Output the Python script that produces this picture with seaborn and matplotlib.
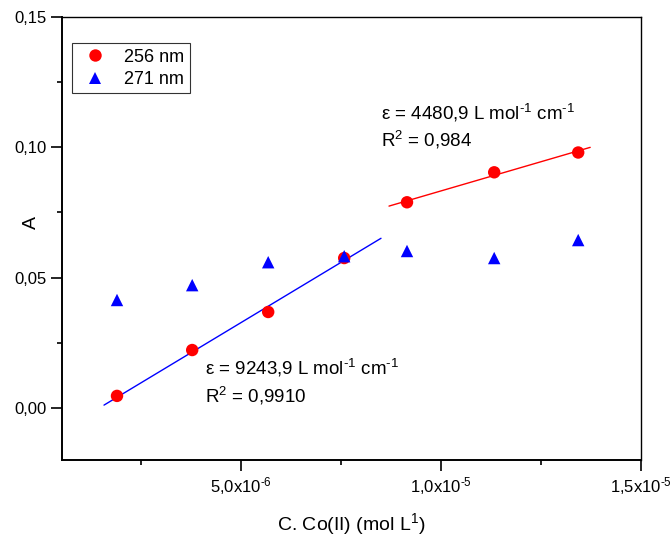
import numpy as np
import pandas as pd
import matplotlib
matplotlib.use("Agg")
import matplotlib.pyplot as plt
import matplotlib.ticker as mticker
import seaborn as sns

# Concentration of Co(II) (mol/L) and absorbance at the two wavelengths
conc = [1.90e-6, 3.78e-6, 5.68e-6, 7.58e-6, 9.15e-6, 1.133e-5, 1.343e-5]
abs_256 = [0.0046, 0.0222, 0.0368, 0.0575, 0.0789, 0.0904, 0.0980]
abs_271 = [0.0414, 0.0471, 0.0559, 0.0582, 0.0602, 0.0575, 0.0644]

# Molar absorptivities (slopes) of the two linear ranges at 256 nm
eps_low, r2_low = 9243.9, "0,9910"
eps_high, r2_high = 4480.9, "0,984"

sns.set_theme(style="white")
plt.rcParams["font.family"] = ["Liberation Sans", "DejaVu Sans"]
plt.rcParams["mathtext.fontset"] = "custom"
plt.rcParams["mathtext.rm"] = "Liberation Sans"
plt.rcParams["mathtext.it"] = "Liberation Sans"
plt.rcParams["mathtext.default"] = "regular"
plt.rcParams["text.color"] = "black"
plt.rcParams["axes.labelcolor"] = "black"
plt.rcParams["xtick.color"] = "black"
plt.rcParams["ytick.color"] = "black"

df = pd.DataFrame({
    "conc": conc * 2,
    "A": abs_256 + abs_271,
    "series": ["256 nm"] * len(conc) + ["271 nm"] * len(conc),
})

fig = plt.figure(figsize=(6.72, 5.36), dpi=100)
ax = fig.add_axes([62 / 672, 76 / 536, 579 / 672, 443 / 536])

# Least-squares lines drawn with the stated slopes through each range's centroid
x = np.array(conc)
y = np.array(abs_256)
lo = slice(0, 4)
hi = slice(4, 7)
b_low = y[lo].mean() - eps_low * x[lo].mean()
b_high = y[hi].mean() - eps_high * x[hi].mean()
xl = np.array([1.575e-6, 8.5e-6])
xh = np.array([8.7e-6, 1.373e-5])
ax.plot(xl, eps_low * xl + b_low, color="#0000ff", lw=1.0, zorder=2)
ax.plot(xh, eps_high * xh + b_high, color="#ff0000", lw=1.0, zorder=2)

sns.scatterplot(data=df, x="conc", y="A", hue="series", style="series",
                palette={"256 nm": "#ff0000", "271 nm": "#0000ff"},
                markers={"256 nm": "o", "271 nm": "^"},
                s=80, linewidth=0, ax=ax, zorder=3)

ax.set_xlim(5.25e-7, 1.5e-5)
ax.set_ylim(-0.02, 0.15)

ax.xaxis.set_major_locator(mticker.FixedLocator([5e-6, 1e-5, 1.5e-5]))
ax.xaxis.set_minor_locator(mticker.FixedLocator([2.5e-6, 7.5e-6, 1.25e-5]))
xlabels = {5e-6: r"5,0x10$^{\text{-6}}$", 1e-5: r"1,0x10$^{\text{-5}}$",
           1.5e-5: r"1,5x10$^{\text{-5}}$"}
ax.xaxis.set_major_formatter(mticker.FuncFormatter(
    lambda v, p: min(xlabels.items(), key=lambda kv: abs(kv[0] - v))[1]))
ax.yaxis.set_major_locator(mticker.FixedLocator([0.0, 0.05, 0.10, 0.15]))
ax.yaxis.set_minor_locator(mticker.FixedLocator([0.025, 0.075, 0.125]))
ax.yaxis.set_major_formatter(mticker.FuncFormatter(
    lambda v, p: f"{v:.2f}".replace(".", ",")))

ax.tick_params(axis="both", which="major", direction="out", length=8, width=1.2,
               labelsize=12, colors="black", pad=3,
               bottom=True, left=True, top=False, right=False)
ax.tick_params(axis="both", which="minor", direction="out", length=3.5, width=1.2,
               bottom=True, left=True, top=False, right=False)
for side in ["left", "bottom"]:
    ax.spines[side].set_linewidth(1.4)
    ax.spines[side].set_color("black")
for side in ["top", "right"]:
    ax.spines[side].set_linewidth(1.0)
    ax.spines[side].set_color("black")

ax.set_xlabel(r"C. Co(II) (mol L$^{1}$)", fontsize=14, labelpad=10)
ax.set_ylabel("A", fontsize=14)
ax.yaxis.set_label_coords(-0.038, 0.537)

sup = r"$^{\text{-1}}$"
ax.text(8.5e-6, 0.1107, "\u03b5 = 4480,9 L mol" + sup + " cm" + sup, fontsize=13.5,
        va="baseline")
ax.text(8.5e-6, 0.1004, r"R$^{2}$ = " + r2_high, fontsize=13.5, va="baseline")
ax.text(4.1e-6, 0.0130, "\u03b5 = 9243,9 L mol" + sup + " cm" + sup, fontsize=13.5,
        va="baseline")
ax.text(4.1e-6, 0.0019, r"R$^{2}$ = " + r2_low, fontsize=13.5, va="baseline")

leg = ax.legend(loc="upper left", bbox_to_anchor=(0.017, 0.941), borderaxespad=0,
                fontsize=13, frameon=True, fancybox=False, handletextpad=0.6,
                borderpad=0.3, labelspacing=0.3, markerscale=1.0)
leg.get_frame().set_edgecolor("black")
leg.get_frame().set_linewidth(0.8)

fig.savefig("out.png", dpi=100)
